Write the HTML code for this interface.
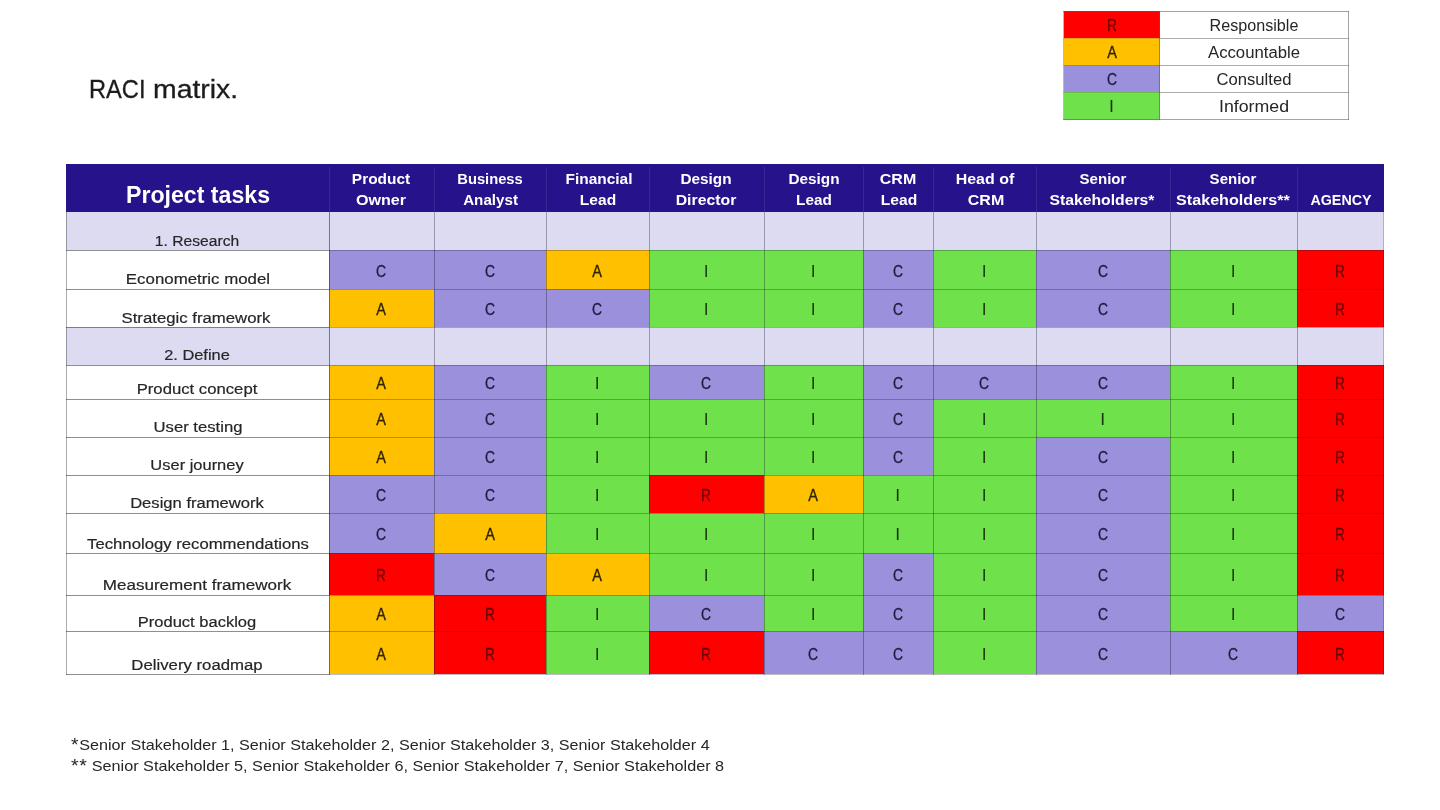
<!DOCTYPE html>
<html lang="en"><head><meta charset="utf-8"><title>RACI matrix</title>
<style>
html,body{margin:0;padding:0;background:#fff;}
body{width:1440px;height:810px;position:relative;overflow:hidden;font-family:"Liberation Sans",Arial,sans-serif;}
.r{position:absolute;}
.t{position:absolute;white-space:nowrap;}
</style></head><body>
<header class="slide-title">
<div class="t" id="title1" style="top:73.04px;font-size:25.4px;line-height:32px;color:#1c1c1c;-webkit-text-stroke:0.3px #1c1c1c;transform:scaleX(0.9316);transform-origin:0 50%;left:89.13px;"><span>RACI</span></div>
<div class="t" id="title2" style="top:73.04px;font-size:25.4px;line-height:32px;color:#1c1c1c;-webkit-text-stroke:0.3px #1c1c1c;transform:scaleX(1.1175);transform-origin:0 50%;left:152.65px;"><span>matrix.</span></div>
</header>
<section class="legend">
<div class="r" style="left:1064px;top:11px;width:96px;height:28px;background:#ff0000"></div>
<div class="r" style="left:1064px;top:38px;width:96px;height:28px;background:#ffc000"></div>
<div class="r" style="left:1064px;top:65px;width:96px;height:28px;background:#9b90db"></div>
<div class="r" style="left:1064px;top:92px;width:96px;height:28px;background:#6ee14b"></div>
<div class="r" style="left:1063px;top:11px;width:286px;height:1px;background:rgba(90,90,90,0.55)"></div>
<div class="r" style="left:1063px;top:38px;width:96px;height:1px;background:rgba(90,60,60,0.22)"></div>
<div class="r" style="left:1159px;top:38px;width:190px;height:1px;background:rgba(90,90,90,0.5)"></div>
<div class="r" style="left:1063px;top:65px;width:96px;height:1px;background:rgba(90,60,60,0.22)"></div>
<div class="r" style="left:1159px;top:65px;width:190px;height:1px;background:rgba(90,90,90,0.5)"></div>
<div class="r" style="left:1063px;top:92px;width:96px;height:1px;background:rgba(90,60,60,0.22)"></div>
<div class="r" style="left:1159px;top:92px;width:190px;height:1px;background:rgba(90,90,90,0.5)"></div>
<div class="r" style="left:1063px;top:119px;width:286px;height:1px;background:rgba(90,90,90,0.55)"></div>
<div class="r" style="left:1063px;top:11px;width:1px;height:109px;background:rgba(120,100,100,0.45)"></div>
<div class="r" style="left:1159px;top:11px;width:1px;height:109px;background:rgba(90,90,90,0.55)"></div>
<div class="r" style="left:1348px;top:11px;width:1px;height:109px;background:rgba(90,90,90,0.55)"></div>
<div class="t" id="legl0" style="top:16.03px;font-size:15.8px;line-height:20px;color:#6e0000;-webkit-text-stroke:0.3px #6e0000;transform:scaleX(0.8600);left:961.50px;width:300px;text-align:center;"><span>R</span></div>
<div class="t" id="legn0" style="top:16.03px;font-size:15.8px;line-height:20px;color:#262626;transform:scaleX(1.0213);left:1103.99px;width:300px;text-align:center;"><span>Responsible</span></div>
<div class="t" id="legl1" style="top:43.03px;font-size:15.8px;line-height:20px;color:#2e2200;-webkit-text-stroke:0.3px #2e2200;transform:scaleX(0.9200);left:961.50px;width:300px;text-align:center;"><span>A</span></div>
<div class="t" id="legn1" style="top:43.03px;font-size:15.8px;line-height:20px;color:#262626;transform:scaleX(1.0583);left:1104.35px;width:300px;text-align:center;"><span>Accountable</span></div>
<div class="t" id="legl2" style="top:70.03px;font-size:15.8px;line-height:20px;color:#1e1b40;-webkit-text-stroke:0.3px #1e1b40;transform:scaleX(0.8800);left:961.50px;width:300px;text-align:center;"><span>C</span></div>
<div class="t" id="legn2" style="top:70.03px;font-size:15.8px;line-height:20px;color:#262626;transform:scaleX(1.0531);left:1104.38px;width:300px;text-align:center;"><span>Consulted</span></div>
<div class="t" id="legl3" style="top:97.03px;font-size:15.8px;line-height:20px;color:#1c3312;-webkit-text-stroke:0.12px #1c3312;left:961.50px;width:300px;text-align:center;"><span>I</span></div>
<div class="t" id="legn3" style="top:97.03px;font-size:15.8px;line-height:20px;color:#262626;transform:scaleX(1.1235);left:1103.79px;width:300px;text-align:center;"><span>Informed</span></div>
</section>
<section class="raci-matrix">
<div class="r" style="left:66px;top:164px;width:1318px;height:48px;background:#26128a"></div>
<div class="r" style="left:66px;top:212px;width:1318px;height:38px;background:#dddbf2"></div>
<div class="r" style="left:329px;top:250px;width:105px;height:39px;background:#9b90db"></div>
<div class="r" style="left:434px;top:250px;width:112px;height:39px;background:#9b90db"></div>
<div class="r" style="left:546px;top:250px;width:103px;height:39px;background:#ffc000"></div>
<div class="r" style="left:649px;top:250px;width:115px;height:39px;background:#6ee14b"></div>
<div class="r" style="left:764px;top:250px;width:99px;height:39px;background:#6ee14b"></div>
<div class="r" style="left:863px;top:250px;width:70px;height:39px;background:#9b90db"></div>
<div class="r" style="left:933px;top:250px;width:103px;height:39px;background:#6ee14b"></div>
<div class="r" style="left:1036px;top:250px;width:134px;height:39px;background:#9b90db"></div>
<div class="r" style="left:1170px;top:250px;width:127px;height:39px;background:#6ee14b"></div>
<div class="r" style="left:1297px;top:250px;width:87px;height:39px;background:#ff0000"></div>
<div class="r" style="left:329px;top:289px;width:105px;height:38px;background:#ffc000"></div>
<div class="r" style="left:434px;top:289px;width:112px;height:38px;background:#9b90db"></div>
<div class="r" style="left:546px;top:289px;width:103px;height:38px;background:#9b90db"></div>
<div class="r" style="left:649px;top:289px;width:115px;height:38px;background:#6ee14b"></div>
<div class="r" style="left:764px;top:289px;width:99px;height:38px;background:#6ee14b"></div>
<div class="r" style="left:863px;top:289px;width:70px;height:38px;background:#9b90db"></div>
<div class="r" style="left:933px;top:289px;width:103px;height:38px;background:#6ee14b"></div>
<div class="r" style="left:1036px;top:289px;width:134px;height:38px;background:#9b90db"></div>
<div class="r" style="left:1170px;top:289px;width:127px;height:38px;background:#6ee14b"></div>
<div class="r" style="left:1297px;top:289px;width:87px;height:38px;background:#ff0000"></div>
<div class="r" style="left:66px;top:327px;width:1318px;height:38px;background:#dddbf2"></div>
<div class="r" style="left:329px;top:365px;width:105px;height:34px;background:#ffc000"></div>
<div class="r" style="left:434px;top:365px;width:112px;height:34px;background:#9b90db"></div>
<div class="r" style="left:546px;top:365px;width:103px;height:34px;background:#6ee14b"></div>
<div class="r" style="left:649px;top:365px;width:115px;height:34px;background:#9b90db"></div>
<div class="r" style="left:764px;top:365px;width:99px;height:34px;background:#6ee14b"></div>
<div class="r" style="left:863px;top:365px;width:70px;height:34px;background:#9b90db"></div>
<div class="r" style="left:933px;top:365px;width:103px;height:34px;background:#9b90db"></div>
<div class="r" style="left:1036px;top:365px;width:134px;height:34px;background:#9b90db"></div>
<div class="r" style="left:1170px;top:365px;width:127px;height:34px;background:#6ee14b"></div>
<div class="r" style="left:1297px;top:365px;width:87px;height:34px;background:#ff0000"></div>
<div class="r" style="left:329px;top:399px;width:105px;height:38px;background:#ffc000"></div>
<div class="r" style="left:434px;top:399px;width:112px;height:38px;background:#9b90db"></div>
<div class="r" style="left:546px;top:399px;width:103px;height:38px;background:#6ee14b"></div>
<div class="r" style="left:649px;top:399px;width:115px;height:38px;background:#6ee14b"></div>
<div class="r" style="left:764px;top:399px;width:99px;height:38px;background:#6ee14b"></div>
<div class="r" style="left:863px;top:399px;width:70px;height:38px;background:#9b90db"></div>
<div class="r" style="left:933px;top:399px;width:103px;height:38px;background:#6ee14b"></div>
<div class="r" style="left:1036px;top:399px;width:134px;height:38px;background:#6ee14b"></div>
<div class="r" style="left:1170px;top:399px;width:127px;height:38px;background:#6ee14b"></div>
<div class="r" style="left:1297px;top:399px;width:87px;height:38px;background:#ff0000"></div>
<div class="r" style="left:329px;top:437px;width:105px;height:38px;background:#ffc000"></div>
<div class="r" style="left:434px;top:437px;width:112px;height:38px;background:#9b90db"></div>
<div class="r" style="left:546px;top:437px;width:103px;height:38px;background:#6ee14b"></div>
<div class="r" style="left:649px;top:437px;width:115px;height:38px;background:#6ee14b"></div>
<div class="r" style="left:764px;top:437px;width:99px;height:38px;background:#6ee14b"></div>
<div class="r" style="left:863px;top:437px;width:70px;height:38px;background:#9b90db"></div>
<div class="r" style="left:933px;top:437px;width:103px;height:38px;background:#6ee14b"></div>
<div class="r" style="left:1036px;top:437px;width:134px;height:38px;background:#9b90db"></div>
<div class="r" style="left:1170px;top:437px;width:127px;height:38px;background:#6ee14b"></div>
<div class="r" style="left:1297px;top:437px;width:87px;height:38px;background:#ff0000"></div>
<div class="r" style="left:329px;top:475px;width:105px;height:38px;background:#9b90db"></div>
<div class="r" style="left:434px;top:475px;width:112px;height:38px;background:#9b90db"></div>
<div class="r" style="left:546px;top:475px;width:103px;height:38px;background:#6ee14b"></div>
<div class="r" style="left:649px;top:475px;width:115px;height:38px;background:#ff0000"></div>
<div class="r" style="left:764px;top:475px;width:99px;height:38px;background:#ffc000"></div>
<div class="r" style="left:863px;top:475px;width:70px;height:38px;background:#6ee14b"></div>
<div class="r" style="left:933px;top:475px;width:103px;height:38px;background:#6ee14b"></div>
<div class="r" style="left:1036px;top:475px;width:134px;height:38px;background:#9b90db"></div>
<div class="r" style="left:1170px;top:475px;width:127px;height:38px;background:#6ee14b"></div>
<div class="r" style="left:1297px;top:475px;width:87px;height:38px;background:#ff0000"></div>
<div class="r" style="left:329px;top:513px;width:105px;height:40px;background:#9b90db"></div>
<div class="r" style="left:434px;top:513px;width:112px;height:40px;background:#ffc000"></div>
<div class="r" style="left:546px;top:513px;width:103px;height:40px;background:#6ee14b"></div>
<div class="r" style="left:649px;top:513px;width:115px;height:40px;background:#6ee14b"></div>
<div class="r" style="left:764px;top:513px;width:99px;height:40px;background:#6ee14b"></div>
<div class="r" style="left:863px;top:513px;width:70px;height:40px;background:#6ee14b"></div>
<div class="r" style="left:933px;top:513px;width:103px;height:40px;background:#6ee14b"></div>
<div class="r" style="left:1036px;top:513px;width:134px;height:40px;background:#9b90db"></div>
<div class="r" style="left:1170px;top:513px;width:127px;height:40px;background:#6ee14b"></div>
<div class="r" style="left:1297px;top:513px;width:87px;height:40px;background:#ff0000"></div>
<div class="r" style="left:329px;top:553px;width:105px;height:42px;background:#ff0000"></div>
<div class="r" style="left:434px;top:553px;width:112px;height:42px;background:#9b90db"></div>
<div class="r" style="left:546px;top:553px;width:103px;height:42px;background:#ffc000"></div>
<div class="r" style="left:649px;top:553px;width:115px;height:42px;background:#6ee14b"></div>
<div class="r" style="left:764px;top:553px;width:99px;height:42px;background:#6ee14b"></div>
<div class="r" style="left:863px;top:553px;width:70px;height:42px;background:#9b90db"></div>
<div class="r" style="left:933px;top:553px;width:103px;height:42px;background:#6ee14b"></div>
<div class="r" style="left:1036px;top:553px;width:134px;height:42px;background:#9b90db"></div>
<div class="r" style="left:1170px;top:553px;width:127px;height:42px;background:#6ee14b"></div>
<div class="r" style="left:1297px;top:553px;width:87px;height:42px;background:#ff0000"></div>
<div class="r" style="left:329px;top:595px;width:105px;height:36px;background:#ffc000"></div>
<div class="r" style="left:434px;top:595px;width:112px;height:36px;background:#ff0000"></div>
<div class="r" style="left:546px;top:595px;width:103px;height:36px;background:#6ee14b"></div>
<div class="r" style="left:649px;top:595px;width:115px;height:36px;background:#9b90db"></div>
<div class="r" style="left:764px;top:595px;width:99px;height:36px;background:#6ee14b"></div>
<div class="r" style="left:863px;top:595px;width:70px;height:36px;background:#9b90db"></div>
<div class="r" style="left:933px;top:595px;width:103px;height:36px;background:#6ee14b"></div>
<div class="r" style="left:1036px;top:595px;width:134px;height:36px;background:#9b90db"></div>
<div class="r" style="left:1170px;top:595px;width:127px;height:36px;background:#6ee14b"></div>
<div class="r" style="left:1297px;top:595px;width:87px;height:36px;background:#9b90db"></div>
<div class="r" style="left:329px;top:631px;width:105px;height:43px;background:#ffc000"></div>
<div class="r" style="left:434px;top:631px;width:112px;height:43px;background:#ff0000"></div>
<div class="r" style="left:546px;top:631px;width:103px;height:43px;background:#6ee14b"></div>
<div class="r" style="left:649px;top:631px;width:115px;height:43px;background:#ff0000"></div>
<div class="r" style="left:764px;top:631px;width:99px;height:43px;background:#9b90db"></div>
<div class="r" style="left:863px;top:631px;width:70px;height:43px;background:#9b90db"></div>
<div class="r" style="left:933px;top:631px;width:103px;height:43px;background:#6ee14b"></div>
<div class="r" style="left:1036px;top:631px;width:134px;height:43px;background:#9b90db"></div>
<div class="r" style="left:1170px;top:631px;width:127px;height:43px;background:#9b90db"></div>
<div class="r" style="left:1297px;top:631px;width:87px;height:43px;background:#ff0000"></div>
<div class="r" style="left:66px;top:250px;width:263px;height:1px;background:rgba(20,20,28,0.48)"></div>
<div class="r" style="left:329px;top:250px;width:1055px;height:1px;background:rgba(20,20,40,0.29)"></div>
<div class="r" style="left:66px;top:289px;width:263px;height:1px;background:rgba(20,20,28,0.48)"></div>
<div class="r" style="left:329px;top:289px;width:1055px;height:1px;background:rgba(20,20,40,0.29)"></div>
<div class="r" style="left:66px;top:327px;width:263px;height:1px;background:rgba(20,20,28,0.48)"></div>
<div class="r" style="left:329px;top:327px;width:1055px;height:1px;background:rgba(20,20,40,0.29)"></div>
<div class="r" style="left:66px;top:365px;width:263px;height:1px;background:rgba(20,20,28,0.48)"></div>
<div class="r" style="left:329px;top:365px;width:1055px;height:1px;background:rgba(20,20,40,0.29)"></div>
<div class="r" style="left:66px;top:399px;width:263px;height:1px;background:rgba(20,20,28,0.48)"></div>
<div class="r" style="left:329px;top:399px;width:1055px;height:1px;background:rgba(20,20,40,0.29)"></div>
<div class="r" style="left:66px;top:437px;width:263px;height:1px;background:rgba(20,20,28,0.48)"></div>
<div class="r" style="left:329px;top:437px;width:1055px;height:1px;background:rgba(20,20,40,0.29)"></div>
<div class="r" style="left:66px;top:475px;width:263px;height:1px;background:rgba(20,20,28,0.48)"></div>
<div class="r" style="left:329px;top:475px;width:1055px;height:1px;background:rgba(20,20,40,0.29)"></div>
<div class="r" style="left:66px;top:513px;width:263px;height:1px;background:rgba(20,20,28,0.48)"></div>
<div class="r" style="left:329px;top:513px;width:1055px;height:1px;background:rgba(20,20,40,0.29)"></div>
<div class="r" style="left:66px;top:553px;width:263px;height:1px;background:rgba(20,20,28,0.48)"></div>
<div class="r" style="left:329px;top:553px;width:1055px;height:1px;background:rgba(20,20,40,0.29)"></div>
<div class="r" style="left:66px;top:595px;width:263px;height:1px;background:rgba(20,20,28,0.48)"></div>
<div class="r" style="left:329px;top:595px;width:1055px;height:1px;background:rgba(20,20,40,0.29)"></div>
<div class="r" style="left:66px;top:631px;width:263px;height:1px;background:rgba(20,20,28,0.48)"></div>
<div class="r" style="left:329px;top:631px;width:1055px;height:1px;background:rgba(20,20,40,0.29)"></div>
<div class="r" style="left:66px;top:674px;width:263px;height:1px;background:rgba(20,20,28,0.48)"></div>
<div class="r" style="left:329px;top:674px;width:1055px;height:1px;background:rgba(20,20,40,0.29)"></div>
<div class="r" style="left:1298px;top:289px;width:86px;height:1px;background:rgba(255,0,0,0.45)"></div>
<div class="r" style="left:1298px;top:399px;width:86px;height:1px;background:rgba(255,0,0,0.45)"></div>
<div class="r" style="left:1298px;top:437px;width:86px;height:1px;background:rgba(255,0,0,0.45)"></div>
<div class="r" style="left:1298px;top:475px;width:86px;height:1px;background:rgba(255,0,0,0.45)"></div>
<div class="r" style="left:1298px;top:513px;width:86px;height:1px;background:rgba(255,0,0,0.45)"></div>
<div class="r" style="left:1298px;top:553px;width:86px;height:1px;background:rgba(255,0,0,0.45)"></div>
<div class="r" style="left:435px;top:631px;width:111px;height:1px;background:rgba(255,0,0,0.45)"></div>
<div class="r" style="left:329px;top:212px;width:1px;height:463px;background:rgba(20,20,32,0.50)"></div>
<div class="r" style="left:434px;top:212px;width:1px;height:463px;background:rgba(20,20,40,0.34)"></div>
<div class="r" style="left:546px;top:212px;width:1px;height:463px;background:rgba(20,20,40,0.34)"></div>
<div class="r" style="left:649px;top:212px;width:1px;height:463px;background:rgba(20,20,40,0.34)"></div>
<div class="r" style="left:764px;top:212px;width:1px;height:463px;background:rgba(20,20,40,0.34)"></div>
<div class="r" style="left:863px;top:212px;width:1px;height:463px;background:rgba(20,20,40,0.34)"></div>
<div class="r" style="left:933px;top:212px;width:1px;height:463px;background:rgba(20,20,40,0.34)"></div>
<div class="r" style="left:1036px;top:212px;width:1px;height:463px;background:rgba(20,20,40,0.34)"></div>
<div class="r" style="left:1170px;top:212px;width:1px;height:463px;background:rgba(20,20,40,0.34)"></div>
<div class="r" style="left:1297px;top:212px;width:1px;height:463px;background:rgba(20,20,40,0.34)"></div>
<div class="r" style="left:66px;top:212px;width:1px;height:463px;background:rgba(20,20,32,0.36)"></div>
<div class="r" style="left:1383px;top:212px;width:1px;height:463px;background:rgba(20,20,32,0.22)"></div>
<div class="r" style="left:329px;top:167px;width:1px;height:45px;background:rgba(255,255,255,0.09)"></div>
<div class="r" style="left:434px;top:167px;width:1px;height:45px;background:rgba(255,255,255,0.09)"></div>
<div class="r" style="left:546px;top:167px;width:1px;height:45px;background:rgba(255,255,255,0.09)"></div>
<div class="r" style="left:649px;top:167px;width:1px;height:45px;background:rgba(255,255,255,0.09)"></div>
<div class="r" style="left:764px;top:167px;width:1px;height:45px;background:rgba(255,255,255,0.09)"></div>
<div class="r" style="left:863px;top:167px;width:1px;height:45px;background:rgba(255,255,255,0.09)"></div>
<div class="r" style="left:933px;top:167px;width:1px;height:45px;background:rgba(255,255,255,0.09)"></div>
<div class="r" style="left:1036px;top:167px;width:1px;height:45px;background:rgba(255,255,255,0.09)"></div>
<div class="r" style="left:1170px;top:167px;width:1px;height:45px;background:rgba(255,255,255,0.09)"></div>
<div class="r" style="left:1297px;top:167px;width:1px;height:45px;background:rgba(255,255,255,0.09)"></div>
<div class="t" id="ptasks" style="top:181.03px;font-size:23.2px;line-height:29px;color:#fff;font-weight:700;transform:scaleX(0.9980);left:47.67px;width:300px;text-align:center;"><span>Project tasks</span></div>
<div class="t" id="h0a" style="top:169.03px;font-size:15.2px;line-height:19px;color:#fff;font-weight:700;transform:scaleX(1.0149);left:231.07px;width:300px;text-align:center;"><span>Product</span></div>
<div class="t" id="h0b" style="top:190.03px;font-size:15.2px;line-height:19px;color:#fff;font-weight:700;transform:scaleX(1.0614);left:231.22px;width:300px;text-align:center;"><span>Owner</span></div>
<div class="t" id="h1a" style="top:169.03px;font-size:15.2px;line-height:19px;color:#fff;font-weight:700;transform:scaleX(0.9704);left:340.49px;width:300px;text-align:center;"><span>Business</span></div>
<div class="t" id="h1b" style="top:190.03px;font-size:15.2px;line-height:19px;color:#fff;font-weight:700;left:340.60px;width:300px;text-align:center;"><span>Analyst</span></div>
<div class="t" id="h2a" style="top:169.03px;font-size:15.2px;line-height:19px;color:#fff;font-weight:700;transform:scaleX(1.0163);left:448.61px;width:300px;text-align:center;"><span>Financial</span></div>
<div class="t" id="h2b" style="top:190.03px;font-size:15.2px;line-height:19px;color:#fff;font-weight:700;transform:scaleX(1.0228);left:448.20px;width:300px;text-align:center;"><span>Lead</span></div>
<div class="t" id="h3a" style="top:169.03px;font-size:15.2px;line-height:19px;color:#fff;font-weight:700;transform:scaleX(1.0095);left:556.39px;width:300px;text-align:center;"><span>Design</span></div>
<div class="t" id="h3b" style="top:190.03px;font-size:15.2px;line-height:19px;color:#fff;font-weight:700;transform:scaleX(1.0414);left:556.12px;width:300px;text-align:center;"><span>Director</span></div>
<div class="t" id="h4a" style="top:169.03px;font-size:15.2px;line-height:19px;color:#fff;font-weight:700;transform:scaleX(1.0095);left:663.59px;width:300px;text-align:center;"><span>Design</span></div>
<div class="t" id="h4b" style="top:190.03px;font-size:15.2px;line-height:19px;color:#fff;font-weight:700;transform:scaleX(1.0096);left:663.78px;width:300px;text-align:center;"><span>Lead</span></div>
<div class="t" id="h5a" style="top:169.03px;font-size:15.2px;line-height:19px;color:#fff;font-weight:700;transform:scaleX(1.0523);left:748.43px;width:300px;text-align:center;"><span>CRM</span></div>
<div class="t" id="h5b" style="top:190.03px;font-size:15.2px;line-height:19px;color:#fff;font-weight:700;transform:scaleX(1.0267);left:748.61px;width:300px;text-align:center;"><span>Lead</span></div>
<div class="t" id="h6a" style="top:169.03px;font-size:15.2px;line-height:19px;color:#fff;font-weight:700;transform:scaleX(1.0512);left:834.50px;width:300px;text-align:center;"><span>Head of</span></div>
<div class="t" id="h6b" style="top:190.03px;font-size:15.2px;line-height:19px;color:#fff;font-weight:700;transform:scaleX(1.0527);left:835.79px;width:300px;text-align:center;"><span>CRM</span></div>
<div class="t" id="h7a" style="top:169.03px;font-size:15.2px;line-height:19px;color:#fff;font-weight:700;transform:scaleX(0.9918);left:952.80px;width:300px;text-align:center;"><span>Senior</span></div>
<div class="t" id="h7b" style="top:190.03px;font-size:15.2px;line-height:19px;color:#fff;font-weight:700;transform:scaleX(1.0361);left:952.22px;width:300px;text-align:center;"><span>Stakeholders*</span></div>
<div class="t" id="h8a" style="top:169.03px;font-size:15.2px;line-height:19px;color:#fff;font-weight:700;transform:scaleX(0.9888);left:1083.40px;width:300px;text-align:center;"><span>Senior</span></div>
<div class="t" id="h8b" style="top:190.03px;font-size:15.2px;line-height:19px;color:#fff;font-weight:700;transform:scaleX(1.0611);left:1082.83px;width:300px;text-align:center;"><span>Stakeholders**</span></div>
<div class="t" id="h9b" style="top:190.03px;font-size:15.2px;line-height:19px;color:#fff;font-weight:700;transform:scaleX(0.9418);left:1191.05px;width:300px;text-align:center;"><span>AGENCY</span></div>
<div class="t" id="lab0" style="top:231.03px;font-size:15.4px;line-height:20px;color:#262626;-webkit-text-stroke:0.2px #262626;transform:scaleX(1.0161);left:47.16px;width:300px;text-align:center;"><span>1. Research</span></div>
<div class="t" id="lab1" style="top:269.03px;font-size:15.4px;line-height:20px;color:#262626;-webkit-text-stroke:0.2px #262626;transform:scaleX(1.0950);left:47.62px;width:300px;text-align:center;"><span>Econometric model</span></div>
<div class="t" id="c1_0" style="top:262.03px;font-size:15.8px;line-height:20px;color:#1e1b40;-webkit-text-stroke:0.3px #1e1b40;transform:scaleX(0.8800);left:231.20px;width:300px;text-align:center;"><span>C</span></div>
<div class="t" id="c1_1" style="top:262.03px;font-size:15.8px;line-height:20px;color:#1e1b40;-webkit-text-stroke:0.3px #1e1b40;transform:scaleX(0.8800);left:339.70px;width:300px;text-align:center;"><span>C</span></div>
<div class="t" id="c1_2" style="top:262.03px;font-size:15.8px;line-height:20px;color:#2e2200;-webkit-text-stroke:0.3px #2e2200;transform:scaleX(0.9200);left:447.20px;width:300px;text-align:center;"><span>A</span></div>
<div class="t" id="c1_3" style="top:262.03px;font-size:15.8px;line-height:20px;color:#1c3312;-webkit-text-stroke:0.12px #1c3312;left:556.20px;width:300px;text-align:center;"><span>I</span></div>
<div class="t" id="c1_4" style="top:262.03px;font-size:15.8px;line-height:20px;color:#1c3312;-webkit-text-stroke:0.12px #1c3312;left:663.20px;width:300px;text-align:center;"><span>I</span></div>
<div class="t" id="c1_5" style="top:262.03px;font-size:15.8px;line-height:20px;color:#1e1b40;-webkit-text-stroke:0.3px #1e1b40;transform:scaleX(0.8800);left:747.70px;width:300px;text-align:center;"><span>C</span></div>
<div class="t" id="c1_6" style="top:262.03px;font-size:15.8px;line-height:20px;color:#1c3312;-webkit-text-stroke:0.12px #1c3312;left:834.20px;width:300px;text-align:center;"><span>I</span></div>
<div class="t" id="c1_7" style="top:262.03px;font-size:15.8px;line-height:20px;color:#1e1b40;-webkit-text-stroke:0.3px #1e1b40;transform:scaleX(0.8800);left:952.70px;width:300px;text-align:center;"><span>C</span></div>
<div class="t" id="c1_8" style="top:262.03px;font-size:15.8px;line-height:20px;color:#1c3312;-webkit-text-stroke:0.12px #1c3312;left:1083.20px;width:300px;text-align:center;"><span>I</span></div>
<div class="t" id="c1_9" style="top:262.03px;font-size:15.8px;line-height:20px;color:#6e0000;-webkit-text-stroke:0.3px #6e0000;transform:scaleX(0.8600);left:1189.70px;width:300px;text-align:center;"><span>R</span></div>
<div class="t" id="lab2" style="top:308.03px;font-size:15.4px;line-height:20px;color:#262626;-webkit-text-stroke:0.2px #262626;transform:scaleX(1.0885);left:46.06px;width:300px;text-align:center;"><span>Strategic framework</span></div>
<div class="t" id="c2_0" style="top:300.03px;font-size:15.8px;line-height:20px;color:#2e2200;-webkit-text-stroke:0.3px #2e2200;transform:scaleX(0.9200);left:231.20px;width:300px;text-align:center;"><span>A</span></div>
<div class="t" id="c2_1" style="top:300.03px;font-size:15.8px;line-height:20px;color:#1e1b40;-webkit-text-stroke:0.3px #1e1b40;transform:scaleX(0.8800);left:339.70px;width:300px;text-align:center;"><span>C</span></div>
<div class="t" id="c2_2" style="top:300.03px;font-size:15.8px;line-height:20px;color:#1e1b40;-webkit-text-stroke:0.3px #1e1b40;transform:scaleX(0.8800);left:447.20px;width:300px;text-align:center;"><span>C</span></div>
<div class="t" id="c2_3" style="top:300.03px;font-size:15.8px;line-height:20px;color:#1c3312;-webkit-text-stroke:0.12px #1c3312;left:556.20px;width:300px;text-align:center;"><span>I</span></div>
<div class="t" id="c2_4" style="top:300.03px;font-size:15.8px;line-height:20px;color:#1c3312;-webkit-text-stroke:0.12px #1c3312;left:663.20px;width:300px;text-align:center;"><span>I</span></div>
<div class="t" id="c2_5" style="top:300.03px;font-size:15.8px;line-height:20px;color:#1e1b40;-webkit-text-stroke:0.3px #1e1b40;transform:scaleX(0.8800);left:747.70px;width:300px;text-align:center;"><span>C</span></div>
<div class="t" id="c2_6" style="top:300.03px;font-size:15.8px;line-height:20px;color:#1c3312;-webkit-text-stroke:0.12px #1c3312;left:834.20px;width:300px;text-align:center;"><span>I</span></div>
<div class="t" id="c2_7" style="top:300.03px;font-size:15.8px;line-height:20px;color:#1e1b40;-webkit-text-stroke:0.3px #1e1b40;transform:scaleX(0.8800);left:952.70px;width:300px;text-align:center;"><span>C</span></div>
<div class="t" id="c2_8" style="top:300.03px;font-size:15.8px;line-height:20px;color:#1c3312;-webkit-text-stroke:0.12px #1c3312;left:1083.20px;width:300px;text-align:center;"><span>I</span></div>
<div class="t" id="c2_9" style="top:300.03px;font-size:15.8px;line-height:20px;color:#6e0000;-webkit-text-stroke:0.3px #6e0000;transform:scaleX(0.8600);left:1189.70px;width:300px;text-align:center;"><span>R</span></div>
<div class="t" id="lab3" style="top:345.03px;font-size:15.4px;line-height:20px;color:#262626;-webkit-text-stroke:0.2px #262626;transform:scaleX(1.0650);left:47.47px;width:300px;text-align:center;"><span>2. Define</span></div>
<div class="t" id="lab4" style="top:379.03px;font-size:15.4px;line-height:20px;color:#262626;-webkit-text-stroke:0.2px #262626;transform:scaleX(1.0849);left:46.90px;width:300px;text-align:center;"><span>Product concept</span></div>
<div class="t" id="c4_0" style="top:374.03px;font-size:15.8px;line-height:20px;color:#2e2200;-webkit-text-stroke:0.3px #2e2200;transform:scaleX(0.9200);left:231.20px;width:300px;text-align:center;"><span>A</span></div>
<div class="t" id="c4_1" style="top:374.03px;font-size:15.8px;line-height:20px;color:#1e1b40;-webkit-text-stroke:0.3px #1e1b40;transform:scaleX(0.8800);left:339.70px;width:300px;text-align:center;"><span>C</span></div>
<div class="t" id="c4_2" style="top:374.03px;font-size:15.8px;line-height:20px;color:#1c3312;-webkit-text-stroke:0.12px #1c3312;left:447.20px;width:300px;text-align:center;"><span>I</span></div>
<div class="t" id="c4_3" style="top:374.03px;font-size:15.8px;line-height:20px;color:#1e1b40;-webkit-text-stroke:0.3px #1e1b40;transform:scaleX(0.8800);left:556.20px;width:300px;text-align:center;"><span>C</span></div>
<div class="t" id="c4_4" style="top:374.03px;font-size:15.8px;line-height:20px;color:#1c3312;-webkit-text-stroke:0.12px #1c3312;left:663.20px;width:300px;text-align:center;"><span>I</span></div>
<div class="t" id="c4_5" style="top:374.03px;font-size:15.8px;line-height:20px;color:#1e1b40;-webkit-text-stroke:0.3px #1e1b40;transform:scaleX(0.8800);left:747.70px;width:300px;text-align:center;"><span>C</span></div>
<div class="t" id="c4_6" style="top:374.03px;font-size:15.8px;line-height:20px;color:#1e1b40;-webkit-text-stroke:0.3px #1e1b40;transform:scaleX(0.8800);left:834.20px;width:300px;text-align:center;"><span>C</span></div>
<div class="t" id="c4_7" style="top:374.03px;font-size:15.8px;line-height:20px;color:#1e1b40;-webkit-text-stroke:0.3px #1e1b40;transform:scaleX(0.8800);left:952.70px;width:300px;text-align:center;"><span>C</span></div>
<div class="t" id="c4_8" style="top:374.03px;font-size:15.8px;line-height:20px;color:#1c3312;-webkit-text-stroke:0.12px #1c3312;left:1083.20px;width:300px;text-align:center;"><span>I</span></div>
<div class="t" id="c4_9" style="top:374.03px;font-size:15.8px;line-height:20px;color:#6e0000;-webkit-text-stroke:0.3px #6e0000;transform:scaleX(0.8600);left:1189.70px;width:300px;text-align:center;"><span>R</span></div>
<div class="t" id="lab5" style="top:417.03px;font-size:15.4px;line-height:20px;color:#262626;-webkit-text-stroke:0.2px #262626;transform:scaleX(1.0834);left:47.51px;width:300px;text-align:center;"><span>User testing</span></div>
<div class="t" id="c5_0" style="top:410.03px;font-size:15.8px;line-height:20px;color:#2e2200;-webkit-text-stroke:0.3px #2e2200;transform:scaleX(0.9200);left:231.20px;width:300px;text-align:center;"><span>A</span></div>
<div class="t" id="c5_1" style="top:410.03px;font-size:15.8px;line-height:20px;color:#1e1b40;-webkit-text-stroke:0.3px #1e1b40;transform:scaleX(0.8800);left:339.70px;width:300px;text-align:center;"><span>C</span></div>
<div class="t" id="c5_2" style="top:410.03px;font-size:15.8px;line-height:20px;color:#1c3312;-webkit-text-stroke:0.12px #1c3312;left:447.20px;width:300px;text-align:center;"><span>I</span></div>
<div class="t" id="c5_3" style="top:410.03px;font-size:15.8px;line-height:20px;color:#1c3312;-webkit-text-stroke:0.12px #1c3312;left:556.20px;width:300px;text-align:center;"><span>I</span></div>
<div class="t" id="c5_4" style="top:410.03px;font-size:15.8px;line-height:20px;color:#1c3312;-webkit-text-stroke:0.12px #1c3312;left:663.20px;width:300px;text-align:center;"><span>I</span></div>
<div class="t" id="c5_5" style="top:410.03px;font-size:15.8px;line-height:20px;color:#1e1b40;-webkit-text-stroke:0.3px #1e1b40;transform:scaleX(0.8800);left:747.70px;width:300px;text-align:center;"><span>C</span></div>
<div class="t" id="c5_6" style="top:410.03px;font-size:15.8px;line-height:20px;color:#1c3312;-webkit-text-stroke:0.12px #1c3312;left:834.20px;width:300px;text-align:center;"><span>I</span></div>
<div class="t" id="c5_7" style="top:410.03px;font-size:15.8px;line-height:20px;color:#1c3312;-webkit-text-stroke:0.12px #1c3312;left:952.70px;width:300px;text-align:center;"><span>I</span></div>
<div class="t" id="c5_8" style="top:410.03px;font-size:15.8px;line-height:20px;color:#1c3312;-webkit-text-stroke:0.12px #1c3312;left:1083.20px;width:300px;text-align:center;"><span>I</span></div>
<div class="t" id="c5_9" style="top:410.03px;font-size:15.8px;line-height:20px;color:#6e0000;-webkit-text-stroke:0.3px #6e0000;transform:scaleX(0.8600);left:1189.70px;width:300px;text-align:center;"><span>R</span></div>
<div class="t" id="lab6" style="top:455.03px;font-size:15.4px;line-height:20px;color:#262626;-webkit-text-stroke:0.2px #262626;transform:scaleX(1.0688);left:47.45px;width:300px;text-align:center;"><span>User journey</span></div>
<div class="t" id="c6_0" style="top:448.03px;font-size:15.8px;line-height:20px;color:#2e2200;-webkit-text-stroke:0.3px #2e2200;transform:scaleX(0.9200);left:231.20px;width:300px;text-align:center;"><span>A</span></div>
<div class="t" id="c6_1" style="top:448.03px;font-size:15.8px;line-height:20px;color:#1e1b40;-webkit-text-stroke:0.3px #1e1b40;transform:scaleX(0.8800);left:339.70px;width:300px;text-align:center;"><span>C</span></div>
<div class="t" id="c6_2" style="top:448.03px;font-size:15.8px;line-height:20px;color:#1c3312;-webkit-text-stroke:0.12px #1c3312;left:447.20px;width:300px;text-align:center;"><span>I</span></div>
<div class="t" id="c6_3" style="top:448.03px;font-size:15.8px;line-height:20px;color:#1c3312;-webkit-text-stroke:0.12px #1c3312;left:556.20px;width:300px;text-align:center;"><span>I</span></div>
<div class="t" id="c6_4" style="top:448.03px;font-size:15.8px;line-height:20px;color:#1c3312;-webkit-text-stroke:0.12px #1c3312;left:663.20px;width:300px;text-align:center;"><span>I</span></div>
<div class="t" id="c6_5" style="top:448.03px;font-size:15.8px;line-height:20px;color:#1e1b40;-webkit-text-stroke:0.3px #1e1b40;transform:scaleX(0.8800);left:747.70px;width:300px;text-align:center;"><span>C</span></div>
<div class="t" id="c6_6" style="top:448.03px;font-size:15.8px;line-height:20px;color:#1c3312;-webkit-text-stroke:0.12px #1c3312;left:834.20px;width:300px;text-align:center;"><span>I</span></div>
<div class="t" id="c6_7" style="top:448.03px;font-size:15.8px;line-height:20px;color:#1e1b40;-webkit-text-stroke:0.3px #1e1b40;transform:scaleX(0.8800);left:952.70px;width:300px;text-align:center;"><span>C</span></div>
<div class="t" id="c6_8" style="top:448.03px;font-size:15.8px;line-height:20px;color:#1c3312;-webkit-text-stroke:0.12px #1c3312;left:1083.20px;width:300px;text-align:center;"><span>I</span></div>
<div class="t" id="c6_9" style="top:448.03px;font-size:15.8px;line-height:20px;color:#6e0000;-webkit-text-stroke:0.3px #6e0000;transform:scaleX(0.8600);left:1189.70px;width:300px;text-align:center;"><span>R</span></div>
<div class="t" id="lab7" style="top:493.03px;font-size:15.4px;line-height:20px;color:#262626;-webkit-text-stroke:0.2px #262626;transform:scaleX(1.0783);left:47.42px;width:300px;text-align:center;"><span>Design framework</span></div>
<div class="t" id="c7_0" style="top:486.03px;font-size:15.8px;line-height:20px;color:#1e1b40;-webkit-text-stroke:0.3px #1e1b40;transform:scaleX(0.8800);left:231.20px;width:300px;text-align:center;"><span>C</span></div>
<div class="t" id="c7_1" style="top:486.03px;font-size:15.8px;line-height:20px;color:#1e1b40;-webkit-text-stroke:0.3px #1e1b40;transform:scaleX(0.8800);left:339.70px;width:300px;text-align:center;"><span>C</span></div>
<div class="t" id="c7_2" style="top:486.03px;font-size:15.8px;line-height:20px;color:#1c3312;-webkit-text-stroke:0.12px #1c3312;left:447.20px;width:300px;text-align:center;"><span>I</span></div>
<div class="t" id="c7_3" style="top:486.03px;font-size:15.8px;line-height:20px;color:#6e0000;-webkit-text-stroke:0.3px #6e0000;transform:scaleX(0.8600);left:556.20px;width:300px;text-align:center;"><span>R</span></div>
<div class="t" id="c7_4" style="top:486.03px;font-size:15.8px;line-height:20px;color:#2e2200;-webkit-text-stroke:0.3px #2e2200;transform:scaleX(0.9200);left:663.20px;width:300px;text-align:center;"><span>A</span></div>
<div class="t" id="c7_5" style="top:486.03px;font-size:15.8px;line-height:20px;color:#1c3312;-webkit-text-stroke:0.12px #1c3312;left:747.70px;width:300px;text-align:center;"><span>I</span></div>
<div class="t" id="c7_6" style="top:486.03px;font-size:15.8px;line-height:20px;color:#1c3312;-webkit-text-stroke:0.12px #1c3312;left:834.20px;width:300px;text-align:center;"><span>I</span></div>
<div class="t" id="c7_7" style="top:486.03px;font-size:15.8px;line-height:20px;color:#1e1b40;-webkit-text-stroke:0.3px #1e1b40;transform:scaleX(0.8800);left:952.70px;width:300px;text-align:center;"><span>C</span></div>
<div class="t" id="c7_8" style="top:486.03px;font-size:15.8px;line-height:20px;color:#1c3312;-webkit-text-stroke:0.12px #1c3312;left:1083.20px;width:300px;text-align:center;"><span>I</span></div>
<div class="t" id="c7_9" style="top:486.03px;font-size:15.8px;line-height:20px;color:#6e0000;-webkit-text-stroke:0.3px #6e0000;transform:scaleX(0.8600);left:1189.70px;width:300px;text-align:center;"><span>R</span></div>
<div class="t" id="lab8" style="top:534.03px;font-size:15.4px;line-height:20px;color:#262626;-webkit-text-stroke:0.2px #262626;transform:scaleX(1.0848);left:47.91px;width:300px;text-align:center;"><span>Technology recommendations</span></div>
<div class="t" id="c8_0" style="top:525.03px;font-size:15.8px;line-height:20px;color:#1e1b40;-webkit-text-stroke:0.3px #1e1b40;transform:scaleX(0.8800);left:231.20px;width:300px;text-align:center;"><span>C</span></div>
<div class="t" id="c8_1" style="top:525.03px;font-size:15.8px;line-height:20px;color:#2e2200;-webkit-text-stroke:0.3px #2e2200;transform:scaleX(0.9200);left:339.70px;width:300px;text-align:center;"><span>A</span></div>
<div class="t" id="c8_2" style="top:525.03px;font-size:15.8px;line-height:20px;color:#1c3312;-webkit-text-stroke:0.12px #1c3312;left:447.20px;width:300px;text-align:center;"><span>I</span></div>
<div class="t" id="c8_3" style="top:525.03px;font-size:15.8px;line-height:20px;color:#1c3312;-webkit-text-stroke:0.12px #1c3312;left:556.20px;width:300px;text-align:center;"><span>I</span></div>
<div class="t" id="c8_4" style="top:525.03px;font-size:15.8px;line-height:20px;color:#1c3312;-webkit-text-stroke:0.12px #1c3312;left:663.20px;width:300px;text-align:center;"><span>I</span></div>
<div class="t" id="c8_5" style="top:525.03px;font-size:15.8px;line-height:20px;color:#1c3312;-webkit-text-stroke:0.12px #1c3312;left:747.70px;width:300px;text-align:center;"><span>I</span></div>
<div class="t" id="c8_6" style="top:525.03px;font-size:15.8px;line-height:20px;color:#1c3312;-webkit-text-stroke:0.12px #1c3312;left:834.20px;width:300px;text-align:center;"><span>I</span></div>
<div class="t" id="c8_7" style="top:525.03px;font-size:15.8px;line-height:20px;color:#1e1b40;-webkit-text-stroke:0.3px #1e1b40;transform:scaleX(0.8800);left:952.70px;width:300px;text-align:center;"><span>C</span></div>
<div class="t" id="c8_8" style="top:525.03px;font-size:15.8px;line-height:20px;color:#1c3312;-webkit-text-stroke:0.12px #1c3312;left:1083.20px;width:300px;text-align:center;"><span>I</span></div>
<div class="t" id="c8_9" style="top:525.03px;font-size:15.8px;line-height:20px;color:#6e0000;-webkit-text-stroke:0.3px #6e0000;transform:scaleX(0.8600);left:1189.70px;width:300px;text-align:center;"><span>R</span></div>
<div class="t" id="lab9" style="top:575.03px;font-size:15.4px;line-height:20px;color:#262626;-webkit-text-stroke:0.2px #262626;transform:scaleX(1.1065);left:46.84px;width:300px;text-align:center;"><span>Measurement framework</span></div>
<div class="t" id="c9_0" style="top:566.03px;font-size:15.8px;line-height:20px;color:#6e0000;-webkit-text-stroke:0.3px #6e0000;transform:scaleX(0.8600);left:231.20px;width:300px;text-align:center;"><span>R</span></div>
<div class="t" id="c9_1" style="top:566.03px;font-size:15.8px;line-height:20px;color:#1e1b40;-webkit-text-stroke:0.3px #1e1b40;transform:scaleX(0.8800);left:339.70px;width:300px;text-align:center;"><span>C</span></div>
<div class="t" id="c9_2" style="top:566.03px;font-size:15.8px;line-height:20px;color:#2e2200;-webkit-text-stroke:0.3px #2e2200;transform:scaleX(0.9200);left:447.20px;width:300px;text-align:center;"><span>A</span></div>
<div class="t" id="c9_3" style="top:566.03px;font-size:15.8px;line-height:20px;color:#1c3312;-webkit-text-stroke:0.12px #1c3312;left:556.20px;width:300px;text-align:center;"><span>I</span></div>
<div class="t" id="c9_4" style="top:566.03px;font-size:15.8px;line-height:20px;color:#1c3312;-webkit-text-stroke:0.12px #1c3312;left:663.20px;width:300px;text-align:center;"><span>I</span></div>
<div class="t" id="c9_5" style="top:566.03px;font-size:15.8px;line-height:20px;color:#1e1b40;-webkit-text-stroke:0.3px #1e1b40;transform:scaleX(0.8800);left:747.70px;width:300px;text-align:center;"><span>C</span></div>
<div class="t" id="c9_6" style="top:566.03px;font-size:15.8px;line-height:20px;color:#1c3312;-webkit-text-stroke:0.12px #1c3312;left:834.20px;width:300px;text-align:center;"><span>I</span></div>
<div class="t" id="c9_7" style="top:566.03px;font-size:15.8px;line-height:20px;color:#1e1b40;-webkit-text-stroke:0.3px #1e1b40;transform:scaleX(0.8800);left:952.70px;width:300px;text-align:center;"><span>C</span></div>
<div class="t" id="c9_8" style="top:566.03px;font-size:15.8px;line-height:20px;color:#1c3312;-webkit-text-stroke:0.12px #1c3312;left:1083.20px;width:300px;text-align:center;"><span>I</span></div>
<div class="t" id="c9_9" style="top:566.03px;font-size:15.8px;line-height:20px;color:#6e0000;-webkit-text-stroke:0.3px #6e0000;transform:scaleX(0.8600);left:1189.70px;width:300px;text-align:center;"><span>R</span></div>
<div class="t" id="lab10" style="top:612.03px;font-size:15.4px;line-height:20px;color:#262626;-webkit-text-stroke:0.2px #262626;transform:scaleX(1.0729);left:47.18px;width:300px;text-align:center;"><span>Product backlog</span></div>
<div class="t" id="c10_0" style="top:605.03px;font-size:15.8px;line-height:20px;color:#2e2200;-webkit-text-stroke:0.3px #2e2200;transform:scaleX(0.9200);left:231.20px;width:300px;text-align:center;"><span>A</span></div>
<div class="t" id="c10_1" style="top:605.03px;font-size:15.8px;line-height:20px;color:#6e0000;-webkit-text-stroke:0.3px #6e0000;transform:scaleX(0.8600);left:339.70px;width:300px;text-align:center;"><span>R</span></div>
<div class="t" id="c10_2" style="top:605.03px;font-size:15.8px;line-height:20px;color:#1c3312;-webkit-text-stroke:0.12px #1c3312;left:447.20px;width:300px;text-align:center;"><span>I</span></div>
<div class="t" id="c10_3" style="top:605.03px;font-size:15.8px;line-height:20px;color:#1e1b40;-webkit-text-stroke:0.3px #1e1b40;transform:scaleX(0.8800);left:556.20px;width:300px;text-align:center;"><span>C</span></div>
<div class="t" id="c10_4" style="top:605.03px;font-size:15.8px;line-height:20px;color:#1c3312;-webkit-text-stroke:0.12px #1c3312;left:663.20px;width:300px;text-align:center;"><span>I</span></div>
<div class="t" id="c10_5" style="top:605.03px;font-size:15.8px;line-height:20px;color:#1e1b40;-webkit-text-stroke:0.3px #1e1b40;transform:scaleX(0.8800);left:747.70px;width:300px;text-align:center;"><span>C</span></div>
<div class="t" id="c10_6" style="top:605.03px;font-size:15.8px;line-height:20px;color:#1c3312;-webkit-text-stroke:0.12px #1c3312;left:834.20px;width:300px;text-align:center;"><span>I</span></div>
<div class="t" id="c10_7" style="top:605.03px;font-size:15.8px;line-height:20px;color:#1e1b40;-webkit-text-stroke:0.3px #1e1b40;transform:scaleX(0.8800);left:952.70px;width:300px;text-align:center;"><span>C</span></div>
<div class="t" id="c10_8" style="top:605.03px;font-size:15.8px;line-height:20px;color:#1c3312;-webkit-text-stroke:0.12px #1c3312;left:1083.20px;width:300px;text-align:center;"><span>I</span></div>
<div class="t" id="c10_9" style="top:605.03px;font-size:15.8px;line-height:20px;color:#1e1b40;-webkit-text-stroke:0.3px #1e1b40;transform:scaleX(0.8800);left:1189.70px;width:300px;text-align:center;"><span>C</span></div>
<div class="t" id="lab11" style="top:655.03px;font-size:15.4px;line-height:20px;color:#262626;-webkit-text-stroke:0.2px #262626;transform:scaleX(1.0893);left:47.44px;width:300px;text-align:center;"><span>Delivery roadmap</span></div>
<div class="t" id="c11_0" style="top:645.03px;font-size:15.8px;line-height:20px;color:#2e2200;-webkit-text-stroke:0.3px #2e2200;transform:scaleX(0.9200);left:231.20px;width:300px;text-align:center;"><span>A</span></div>
<div class="t" id="c11_1" style="top:645.03px;font-size:15.8px;line-height:20px;color:#6e0000;-webkit-text-stroke:0.3px #6e0000;transform:scaleX(0.8600);left:339.70px;width:300px;text-align:center;"><span>R</span></div>
<div class="t" id="c11_2" style="top:645.03px;font-size:15.8px;line-height:20px;color:#1c3312;-webkit-text-stroke:0.12px #1c3312;left:447.20px;width:300px;text-align:center;"><span>I</span></div>
<div class="t" id="c11_3" style="top:645.03px;font-size:15.8px;line-height:20px;color:#6e0000;-webkit-text-stroke:0.3px #6e0000;transform:scaleX(0.8600);left:556.20px;width:300px;text-align:center;"><span>R</span></div>
<div class="t" id="c11_4" style="top:645.03px;font-size:15.8px;line-height:20px;color:#1e1b40;-webkit-text-stroke:0.3px #1e1b40;transform:scaleX(0.8800);left:663.20px;width:300px;text-align:center;"><span>C</span></div>
<div class="t" id="c11_5" style="top:645.03px;font-size:15.8px;line-height:20px;color:#1e1b40;-webkit-text-stroke:0.3px #1e1b40;transform:scaleX(0.8800);left:747.70px;width:300px;text-align:center;"><span>C</span></div>
<div class="t" id="c11_6" style="top:645.03px;font-size:15.8px;line-height:20px;color:#1c3312;-webkit-text-stroke:0.12px #1c3312;left:834.20px;width:300px;text-align:center;"><span>I</span></div>
<div class="t" id="c11_7" style="top:645.03px;font-size:15.8px;line-height:20px;color:#1e1b40;-webkit-text-stroke:0.3px #1e1b40;transform:scaleX(0.8800);left:952.70px;width:300px;text-align:center;"><span>C</span></div>
<div class="t" id="c11_8" style="top:645.03px;font-size:15.8px;line-height:20px;color:#1e1b40;-webkit-text-stroke:0.3px #1e1b40;transform:scaleX(0.8800);left:1083.20px;width:300px;text-align:center;"><span>C</span></div>
<div class="t" id="c11_9" style="top:645.03px;font-size:15.8px;line-height:20px;color:#6e0000;-webkit-text-stroke:0.3px #6e0000;transform:scaleX(0.8600);left:1189.70px;width:300px;text-align:center;"><span>R</span></div>
</section>
<footer class="footnotes">
<div class="t" id="fn1" style="top:735.03px;font-size:15.0px;line-height:19px;color:#262626;transform:scaleX(1.0770);transform-origin:0 50%;left:71.47px;"><span><span style="font-size:120%;letter-spacing:0.6px;position:relative;top:1px">*</span>Senior Stakeholder 1, Senior Stakeholder 2, Senior Stakeholder 3, Senior Stakeholder 4</span></div>
<div class="t" id="fn2" style="top:756.03px;font-size:15.0px;line-height:19px;color:#262626;transform:scaleX(1.0803);transform-origin:0 50%;left:71.39px;"><span><span style="font-size:120%;letter-spacing:0.6px;margin-right:-0.2px;position:relative;top:1px">**</span> Senior Stakeholder 5, Senior Stakeholder 6, Senior Stakeholder 7, Senior Stakeholder 8</span></div>
</footer>
</body></html>
